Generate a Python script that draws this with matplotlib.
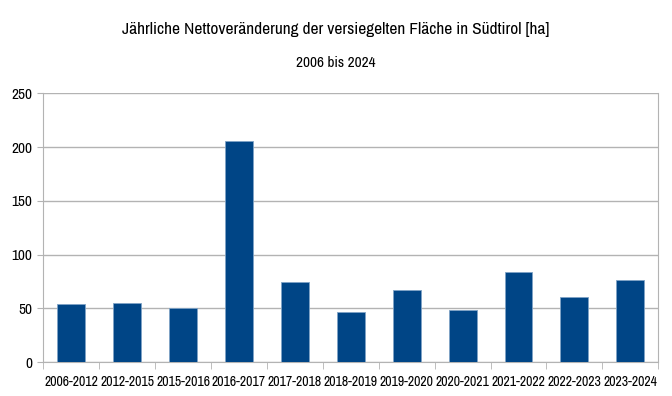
import matplotlib.pyplot as plt
import numpy as np

periods = ['2006-2012', '2012-2015', '2015-2016', '2016-2017', '2017-2018', '2018-2019',
           '2019-2020', '2020-2021', '2021-2022', '2022-2023', '2023-2024']
values = [54.5, 54.8, 50.5, 205.4, 74.3, 46.5, 67.5, 48.9, 83.6, 60.4, 76.8]

plt.rcParams['font.family'] = ['Archivo Narrow', 'DejaVu Sans']
plt.rcParams['font.weight'] = 'medium'

fig = plt.figure(figsize=(6.72, 3.96), dpi=100)
ax = fig.add_axes([0.0645, 0.0851, 0.915, 0.6793])

x = np.arange(len(periods))
ax.bar(x, values, 0.5, color='#004586', edgecolor='#7fa3c6', linewidth=0.6, zorder=3)

ax.set_xlim(-0.5, len(periods) - 0.5)
ax.set_ylim(0, 250)
ax.set_yticks(np.arange(0, 251, 50))
ax.set_xticks(x)
ax.set_xticklabels(periods, fontsize=10)
ax.set_xticks(np.arange(-0.5, len(periods), 1), minor=True)
ax.tick_params(axis='x', which='major', length=0, pad=9)
ax.tick_params(axis='x', which='minor', length=5, color='#b3b3b3')
ax.tick_params(axis='y', length=4, color='#b3b3b3', labelsize=11, pad=4)

ax.grid(axis='y', color='#b3b3b3', linewidth=1, zorder=0)
for s in ['left', 'bottom', 'right']:
    ax.spines[s].set_color('#b3b3b3')
ax.spines['top'].set_visible(False)

fig.text(0.5, 0.926, 'Jährliche Nettoveränderung der versiegelten Fläche in Südtirol [ha]',
         ha='center', va='center', fontsize=12.5)
fig.text(0.5, 0.84, '2006 bis 2024', ha='center', va='center', fontsize=11)

fig.savefig('out.png', dpi=100)
